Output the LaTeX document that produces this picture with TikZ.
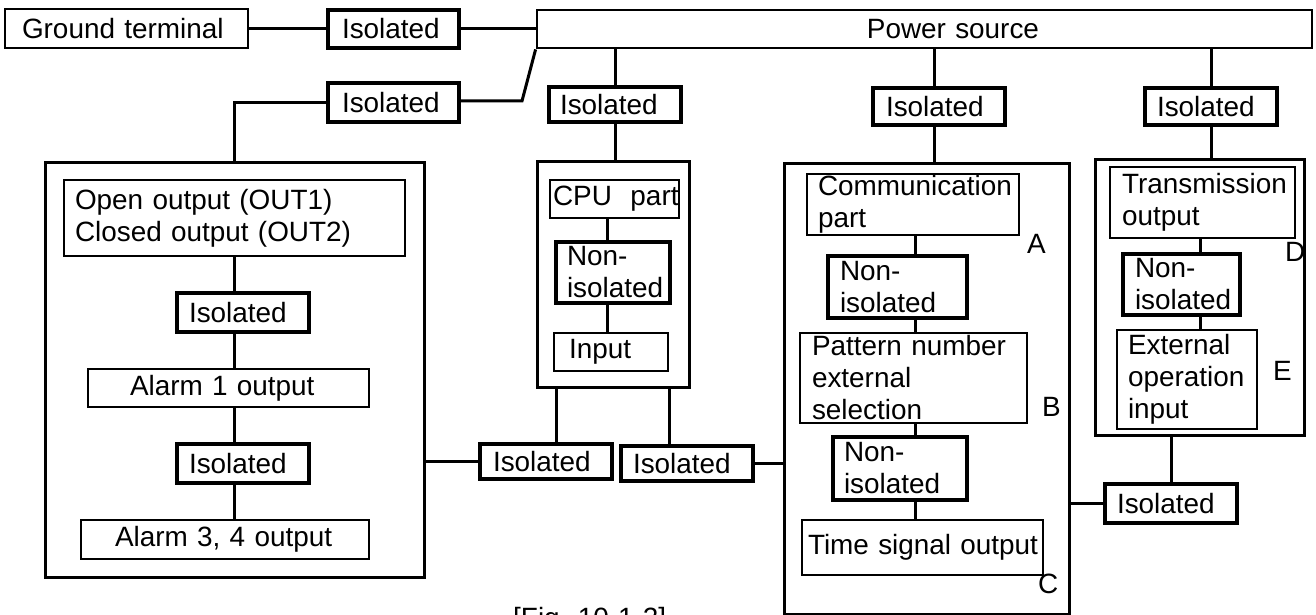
\documentclass[tikz,border=0pt]{standalone}
\usepackage{fontspec}
\setmainfont{Liberation Sans}
\hyphenpenalty=10000
\exhyphenpenalty=10000
\newcommand\bxat[8]{%
  \pgfmathsetmacro\myBW{#5-#3}%
  \pgfmathsetmacro\myBH{#6-#4}%
  \pgfmathsetmacro\myTW{#3+#5-2*#7}%
  \pgfmathsetmacro\myCX{(#3+#5)/2}%
  \pgfmathsetmacro\myCY{(#4+#6)/2}%
  \node[#2, minimum width=\myBW pt, minimum height=\myBH pt, text width=\myTW pt, align=left] (#1) at (\myCX,\myCY) {#8};}
\tikzset{
  thinbox/.style={draw, line width=1.6pt, inner sep=0pt},
  isobox/.style={draw, line width=3.2pt, inner sep=0pt},
  bigbox/.style={draw, line width=3pt, inner sep=0pt},
  pbox/.style={draw, line width=2.8pt, inner sep=0pt},
  lbl/.style={inner sep=0pt, anchor=base west},
  wire/.style={line width=3pt},
}
\begin{document}
\begin{tikzpicture}[x=1pt,y=-1pt,font=\fontsize{27.9}{32}\selectfont]
\useasboundingbox (0,0) rectangle (1316,615);
% top row
\bxat{GT}{thinbox}{5}{9}{248}{48}{22}{\mbox{Ground terminal}}
\bxat{I1}{isobox}{328}{10}{459}{48}{342}{Isolated}
\node[pbox, minimum width=775pt, minimum height=38pt, text width=229pt, align=right] (PS) at (924.5,29) {Power source};
\bxat{I2}{isobox}{328}{83}{459}{122}{342}{Isolated}
\bxat{CI}{isobox}{549}{87}{681}{122}{560}{Isolated}
\bxat{MI}{isobox}{873}{88}{1005}{125}{886}{Isolated}
\bxat{RI}{isobox}{1145}{88}{1277}{125}{1157}{Isolated}
% left block
\bxat{LB}{bigbox}{45}{162}{424}{577}{45}{}
\bxat{OC}{thinbox}{64}{180}{405}{256}{75}{\mbox{Open output (OUT1)}\\\mbox{Closed output (OUT2)}}
\bxat{IL1}{isobox}{177}{293}{309}{332}{189}{Isolated}
\bxat{A1}{thinbox}{88}{369}{369}{407}{130}{\mbox{Alarm 1 output}}
\bxat{IL2}{isobox}{177}{444}{309}{483}{189}{Isolated}
\bxat{A34}{thinbox}{81}{520}{369}{559}{115}{\mbox{Alarm 3, 4 output}}
% bottom isolated
\bxat{B1}{isobox}{480}{444}{612}{479}{493}{Isolated}
\bxat{B2}{isobox}{621}{446}{753}{481}{633}{Isolated}
% CPU block
\bxat{CPU}{bigbox}{537}{161}{689}{387}{537}{}
\bxat{CP}{thinbox}{550}{180}{679}{218}{553}{\mbox{CPU\ \ part}}
\bxat{NC}{isobox}{556}{242}{670}{303}{567}{Non-\\isolated}
\bxat{IN}{thinbox}{554}{333}{668}{371}{569}{Input}
% middle block
\bxat{MB}{bigbox}{784}{163}{1069}{614}{784}{}
\bxat{CM}{thinbox}{807}{174}{1019}{235}{818}{Communication\\part}
\bxat{NM1}{isobox}{828}{256}{967}{318}{840}{Non-\\isolated}
\bxat{PT}{thinbox}{800}{333}{1027}{423}{812}{\mbox{Pattern number}\\external\\selection}
\bxat{NM2}{isobox}{833}{437}{967}{500}{844}{Non-\\isolated}
\bxat{TS}{thinbox}{802}{520}{1043}{575}{808}{\mbox{Time signal output}}
% right block
\bxat{RB}{bigbox}{1095}{159}{1304}{435}{1095}{}
\bxat{TR}{thinbox}{1110}{167}{1295}{238}{1122}{Transmission\\output}
\bxat{NR}{isobox}{1123}{254}{1240}{315}{1135}{Non-\\isolated}
\bxat{EX}{thinbox}{1117}{330}{1257}{429}{1128}{External\\operation\\input}
\bxat{BR}{isobox}{1105}{484}{1237}{523}{1117}{Isolated}
% letters
\node[lbl] (LA) at (1027,253) {A};
\node[lbl] (LBb) at (1042,416) {B};
\node[lbl] (LC) at (1038,593) {C};
\node[lbl] (LD) at (1285,261) {D};
\node[lbl] (LE) at (1273,380) {E};
\node[lbl] (CAP) at (513,627) {[Fig. 10-1-2]};
% helper coordinates
\coordinate (k1) at (522,101);
\coordinate (lx) at (234,0);
\coordinate (cx) at (607,0);
\coordinate (c1) at (556,0);
\coordinate (c2) at (669,0);
\coordinate (mx) at (934,0);
\coordinate (mx2) at (915,0);
\coordinate (rx) at (1200,0);
% connectors
\draw[wire] (GT.east) -- (GT.east -| I1.west);
\draw[wire] (I1.east) -- (I1.east -| PS.west);
\draw[wire] (PS.south west) -- (k1) -- (k1 -| I2.east);
\draw[wire] (I2.west) -| (LB.north);
\draw[wire] (CI.north) -- (CI.north |- PS.south);
\draw[wire] (CI.south) -- (CI.south |- CPU.north);
\draw[wire] (mx |- PS.south) -- (mx |- MI.north);
\draw[wire] (mx |- MI.south) -- (mx |- MB.north);
\draw[wire] (RI.north) -- (RI.north |- PS.south);
\draw[wire] (RI.south) -- (RI.south |- RB.north);
\draw[wire] (lx |- OC.south) -- (lx |- IL1.north);
\draw[wire] (lx |- IL1.south) -- (lx |- A1.north);
\draw[wire] (lx |- A1.south) -- (lx |- IL2.north);
\draw[wire] (lx |- IL2.south) -- (lx |- A34.north);
\draw[wire] (B1.west) -- (B1.west -| LB.east);
\draw[wire] (c1 |- CPU.south) -- (c1 |- B1.north);
\draw[wire] (c2 |- CPU.south) -- (c2 |- B2.north);
\draw[wire] (B2.east) -- (B2.east -| MB.west);
\draw[wire] (cx |- CP.south) -- (cx |- NC.north);
\draw[wire] (cx |- NC.south) -- (cx |- IN.north);
\draw[wire] (mx2 |- CM.south) -- (mx2 |- NM1.north);
\draw[wire] (mx2 |- NM1.south) -- (mx2 |- PT.north);
\draw[wire] (mx2 |- PT.south) -- (mx2 |- NM2.north);
\draw[wire] (mx2 |- NM2.south) -- (mx2 |- TS.north);
\draw[wire] (rx |- TR.south) -- (rx |- NR.north);
\draw[wire] (rx |- NR.south) -- (rx |- EX.north);
\draw[wire] (BR.west) -- (BR.west -| MB.east);
\draw[wire] (BR.north) -- (BR.north |- RB.south);
\end{tikzpicture}
\end{document}
